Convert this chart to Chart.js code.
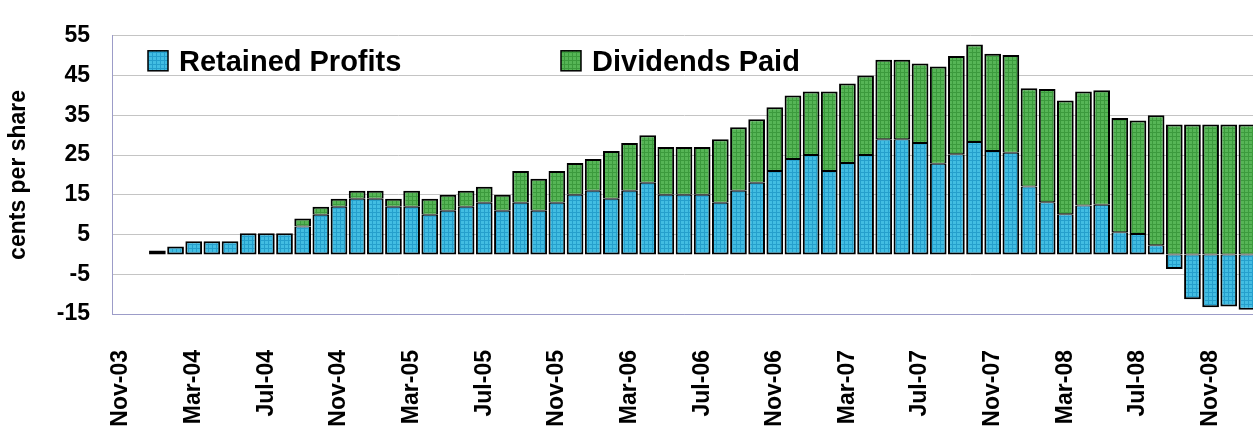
<!DOCTYPE html>
<html>
<head>
    <title>Retained Profits and Dividends Paid</title>
    <script src="https://cdn.jsdelivr.net/npm/chart.js"></script>
    <style>
        body { margin: 0; overflow: hidden; background: #fff; }
        canvas { display: block; }
    </style>
</head>
<body>
    <canvas id="profitChart" width="1260" height="432"></canvas>

    <script>
        // monthly categories, Nov-03 .. Jan-09
        const months = [
            'Nov-03', 'Dec-03',
            'Jan-04', 'Feb-04', 'Mar-04', 'Apr-04', 'May-04', 'Jun-04', 'Jul-04', 'Aug-04', 'Sep-04', 'Oct-04', 'Nov-04', 'Dec-04',
            'Jan-05', 'Feb-05', 'Mar-05', 'Apr-05', 'May-05', 'Jun-05', 'Jul-05', 'Aug-05', 'Sep-05', 'Oct-05', 'Nov-05', 'Dec-05',
            'Jan-06', 'Feb-06', 'Mar-06', 'Apr-06', 'May-06', 'Jun-06', 'Jul-06', 'Aug-06', 'Sep-06', 'Oct-06', 'Nov-06', 'Dec-06',
            'Jan-07', 'Feb-07', 'Mar-07', 'Apr-07', 'May-07', 'Jun-07', 'Jul-07', 'Aug-07', 'Sep-07', 'Oct-07', 'Nov-07', 'Dec-07',
            'Jan-08', 'Feb-08', 'Mar-08', 'Apr-08', 'May-08', 'Jun-08', 'Jul-08', 'Aug-08', 'Sep-08', 'Oct-08', 'Nov-08', 'Dec-08',
            'Jan-09'
        ];

        // cents per share
        const retainedProfits = [
            null, null,
            1, 2, 3.3, 3.3, 3.3, 5.3, 5.3, 5.3, 7, 10, 12, 14,
            14, 12, 12, 10, 11, 12, 13, 11, 13, 11, 13, 15,
            16, 14, 16, 18, 15, 15, 15, 13, 16, 18, 21, 24,
            25, 21, 23, 25, 29, 29, 28, 22.8, 25.2, 28.3, 26, 25.6,
            17.1, 13.1, 10.1, 12.3, 12.5, 5.6, 5.1, 2.3, -3.7, -11.3, -13.3, -13.1,
            -13.9
        ];

        const dividendsPaid = [
            null, null,
            null, null, null, null, null, null, null, null, 2, 2, 2, 2,
            2, 2, 4, 4, 4, 4, 4, 4, 8, 8, 8, 8,
            8, 12, 12, 12, 12, 12, 12, 16, 16, 16, 16, 16,
            16, 20, 20, 20, 20, 20, 20, 24.5, 24.7, 24.5, 24.5, 24.6,
            24.7, 28.5, 28.6, 28.7, 28.8, 28.7, 28.6, 32.7, 32.7, 32.7, 32.7, 32.7,
            32.7
        ];

        const yMin = -15, yMax = 55, yStep = 10;
        const labelEvery = 4;

        const FONT = '"Liberation Sans", Arial, sans-serif';

        // small checked fill like the old spreadsheet bars
        function makePattern(base, line) {
            const c = document.createElement('canvas');
            c.width = 4; c.height = 4;
            const g = c.getContext('2d');
            g.fillStyle = base;
            g.fillRect(0, 0, 4, 4);
            g.fillStyle = line;
            g.fillRect(0, 0, 4, 1);
            g.fillRect(0, 0, 1, 4);
            return g.createPattern(c, 'repeat');
        }

        const bluePattern = makePattern('#42bde2', '#259fcc');
        const greenPattern = makePattern('#56b556', '#3c9a3d');

        // legend sits inside the plot, top left
        const insideLegend = {
            id: 'insideLegend',
            afterDraw(chart) {
                const { ctx, chartArea } = chart;
                const items = [{ ds: 0, x: 36 }, { ds: 1, x: 449 }];
                ctx.save();
                ctx.font = 'bold 29px ' + FONT;
                ctx.textBaseline = 'alphabetic';
                items.forEach(it => {
                    const ds = chart.data.datasets[it.ds];
                    const bx = chartArea.left + it.x;
                    const by = chartArea.top + 15;
                    ctx.fillStyle = ds.backgroundColor;
                    ctx.fillRect(bx, by, 20, 20);
                    ctx.lineWidth = 1.5;
                    ctx.strokeStyle = '#000';
                    ctx.strokeRect(bx, by, 20, 20);
                    ctx.fillStyle = '#000';
                    ctx.fillText(ds.label, bx + 31, by + 20);
                });
                ctx.restore();
            }
        };

        const ctx = document.getElementById('profitChart').getContext('2d');
        new Chart(ctx, {
            type: 'bar',
            data: {
                labels: months,
                datasets: [{
                    label: 'Retained Profits',
                    data: retainedProfits,
                    backgroundColor: bluePattern,
                    borderColor: '#000',
                    borderSkipped: false,
                    borderWidth: c => ({
                        top: dividendsPaid[c.dataIndex] != null ? 1 : 2,
                        bottom: 2, left: 2, right: 2
                    })
                }, {
                    label: 'Dividends Paid',
                    data: dividendsPaid,
                    backgroundColor: greenPattern,
                    borderColor: '#000',
                    borderSkipped: false,
                    borderWidth: { top: 2, bottom: 1, left: 2, right: 2 }
                }]
            },
            options: {
                responsive: false,
                animation: false,
                datasets: { bar: { categoryPercentage: 1, barPercentage: 0.92 } },
                layout: { padding: { top: 22, right: 4, left: 0, bottom: 0 } },
                plugins: {
                    legend: { display: false },
                    tooltip: { enabled: false }
                },
                scales: {
                    x: {
                        stacked: true,
                        grid: { display: false, drawTicks: false },
                        border: { color: '#9c9cc8', width: 1 },
                        afterFit: s => {
                            s.height = 118;
                            s.paddingLeft = 0;
                            s.paddingRight = 0;
                        },
                        ticks: {
                            autoSkip: false,
                            maxRotation: 90,
                            minRotation: 90,
                            padding: 36,
                            color: '#000',
                            font: { family: FONT, size: 23, weight: 'bold' },
                            callback: function (val, i) {
                                return i % labelEvery === 0 ? this.getLabelForValue(val) : '';
                            }
                        }
                    },
                    y: {
                        stacked: true,
                        min: yMin,
                        max: yMax,
                        afterFit: s => { s.width = 112; },
                        grid: {
                            drawTicks: false,
                            color: c => (c.tick && c.tick.value === yMin) ? '#9c9cc8' : '#c4c4c4'
                        },
                        border: { color: '#9c9cc8', width: 1 },
                        ticks: {
                            stepSize: yStep,
                            padding: 22,
                            color: '#000',
                            font: { family: FONT, size: 23, weight: 'bold' }
                        },
                        title: {
                            display: true,
                            text: 'cents per share',
                            color: '#000',
                            padding: { top: 5, bottom: 0 },
                            font: { family: FONT, size: 23, weight: 'bold' }
                        }
                    }
                }
            },
            plugins: [insideLegend]
        });
    </script>
</body>
</html>
